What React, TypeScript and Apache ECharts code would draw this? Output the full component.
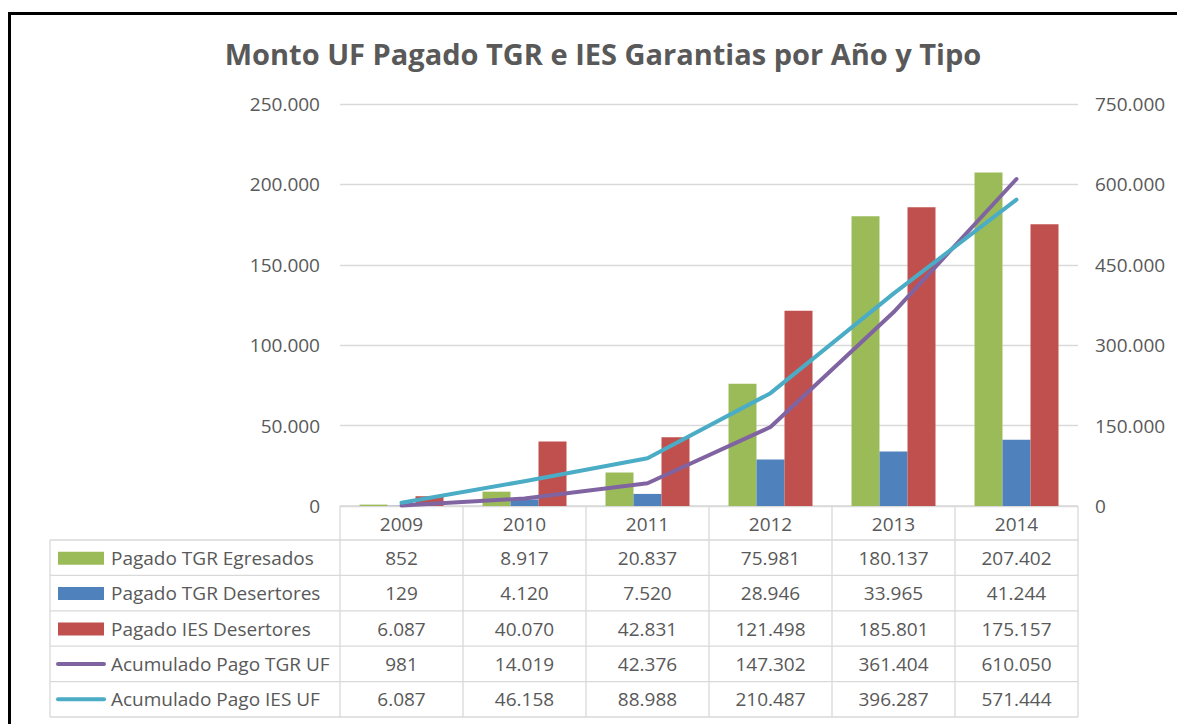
import React, { useEffect, useRef } from "react";
import * as echarts from "echarts";

const years = ["2009", "2010", "2011", "2012", "2013", "2014"];
const tgrEgresados = [852, 8917, 20837, 75981, 180137, 207402];
const tgrDesertores = [129, 4120, 7520, 28946, 33965, 41244];
const iesDesertores = [6087, 40070, 42831, 121498, 185801, 175157];
const acumTGR = [981, 14019, 42376, 147302, 361404, 610050];
const acumIES = [6087, 46158, 88988, 210487, 396287, 571444];

const seriesNames = [
  "Pagado TGR Egresados",
  "Pagado TGR Desertores",
  "Pagado IES Desertores",
  "Acumulado Pago TGR UF",
  "Acumulado Pago IES UF",
];
const seriesData = [tgrEgresados, tgrDesertores, iesDesertores, acumTGR, acumIES];
const seriesColors = ["#9BBB59", "#4F81BD", "#C0504D", "#8064A2", "#4BACC6"];
const seriesIsLine = [false, false, false, true, true];

const fmt = (v: number) =>
  String(Math.round(v)).replace(/\B(?=(\d{3})+(?!\d))/g, ".");

const FONT = "'Open Sans', sans-serif";
const TXT = "#595959";
const BORDER = "#D9D9D9";
const FS = 19;

export default function App() {
  const ref = useRef<HTMLDivElement>(null);
  useEffect(() => {
    document.body.style.margin = "0";
    const chart = echarts.init(ref.current!, null, { renderer: "svg" });
    const L = 340, R = 1078, T = 104, B = 506;
    const cw = (R - L) / years.length;
    const headH = 34;
    const rowH = 35.4;
    const labelLeft = 50;
    const g: any[] = [];
    g.push({
      type: "rect",
      shape: { x: 9.5, y: 13.5, width: 1250, height: 800 },
      style: { fill: "none", stroke: "#000", lineWidth: 3 },
      silent: true,
    });
    const line = (x1: number, y1: number, x2: number, y2: number) =>
      g.push({
        type: "line",
        shape: { x1, y1, x2, y2 },
        style: { stroke: BORDER, lineWidth: 1.3 },
        silent: true,
      });
    const bottom = B + headH + rowH * seriesNames.length;
    line(L, B, R, B);
    for (let r = 0; r <= seriesNames.length; r++) {
      const y = B + headH + rowH * r;
      line(labelLeft, y, R, y);
    }
    line(labelLeft, B + headH, labelLeft, bottom);
    for (let i = 0; i <= years.length; i++) {
      line(L + cw * i, B, L + cw * i, bottom);
    }
    years.forEach((y, i) => {
      g.push({
        type: "text",
        x: L + cw * (i + 0.5),
        y: B + headH / 2 + 1,
        style: { text: y, fill: TXT, font: `${FS}px ${FONT}`, align: "center", verticalAlign: "middle" },
        silent: true,
      });
    });
    seriesNames.forEach((name, r) => {
      const cy = B + headH + rowH * (r + 0.5);
      if (seriesIsLine[r]) {
        g.push({
          type: "line",
          shape: { x1: 58, y1: cy, x2: 104, y2: cy },
          style: { stroke: seriesColors[r], lineWidth: 4, lineCap: "round" },
          silent: true,
        });
      } else {
        g.push({
          type: "rect",
          shape: { x: 58, y: cy - 6, width: 46, height: 13 },
          style: { fill: seriesColors[r] },
          silent: true,
        });
      }
      g.push({
        type: "text",
        x: 111,
        y: cy,
        style: { text: name, fill: TXT, font: `${FS}px ${FONT}`, align: "left", verticalAlign: "middle" },
        silent: true,
      });
      seriesData[r].forEach((v, i) => {
        g.push({
          type: "text",
          x: L + cw * (i + 0.5),
          y: cy,
          style: { text: fmt(v), fill: TXT, font: `${FS}px ${FONT}`, align: "center", verticalAlign: "middle" },
          silent: true,
        });
      });
    });

    const series: any[] = seriesNames.map((name, r) =>
      seriesIsLine[r]
        ? {
            name,
            type: "line",
            yAxisIndex: 1,
            data: seriesData[r],
            symbol: "none",
            lineStyle: { color: seriesColors[r], width: 4, cap: "round", join: "round" },
            itemStyle: { color: seriesColors[r] },
            z: 3,
          }
        : {
            name,
            type: "bar",
            yAxisIndex: 0,
            data: seriesData[r],
            barWidth: 28,
            barGap: "0%",
            itemStyle: { color: seriesColors[r] },
          }
    );

    chart.setOption({
      animation: false,
      backgroundColor: "#fff",
      title: {
        text: "Monto UF Pagado TGR e IES Garantias por Año y Tipo",
        left: 598,
        top: 34,
        textAlign: "center",
        textStyle: { color: TXT, fontSize: 29, fontWeight: "bold", fontFamily: FONT },
      },
      grid: { left: L, top: T, width: R - L, height: B - T, containLabel: false },
      xAxis: {
        type: "category",
        data: years,
        axisLine: { show: false },
        axisTick: { show: false },
        axisLabel: { show: false },
      },
      yAxis: [
        {
          type: "value",
          min: 0,
          max: 250000,
          interval: 50000,
          axisLine: { show: false },
          axisTick: { show: false },
          splitLine: { lineStyle: { color: BORDER, width: 1.3 } },
          axisLabel: { color: TXT, fontSize: FS, fontFamily: FONT, margin: 20, formatter: (v: number) => fmt(v) },
        },
        {
          type: "value",
          min: 0,
          max: 750000,
          interval: 150000,
          position: "right",
          axisLine: { show: false },
          axisTick: { show: false },
          splitLine: { show: false },
          axisLabel: { color: TXT, fontSize: FS, fontFamily: FONT, margin: 17, formatter: (v: number) => fmt(v) },
        },
      ],
      series,
      graphic: g,
    });
    return () => chart.dispose();
  }, []);
  return <div ref={ref} style={{ position: "absolute", left: 0, top: 0, width: 1177, height: 724 }} />;
}
